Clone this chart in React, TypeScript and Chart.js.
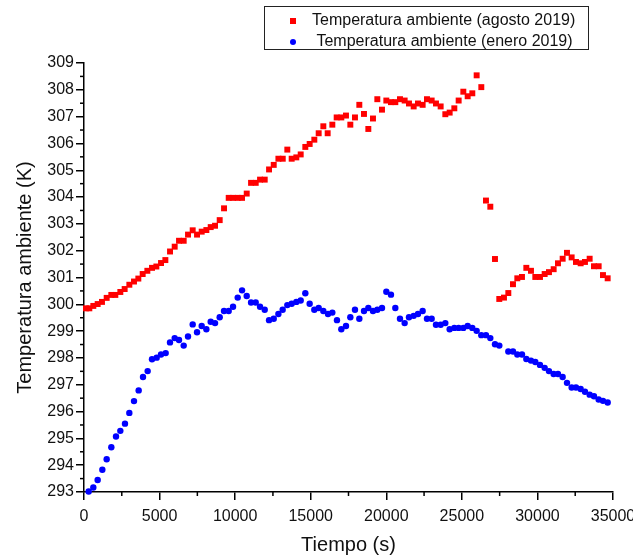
import React, { useEffect, useRef } from 'react';
import { Chart, registerables } from 'chart.js';

Chart.register(...registerables);

const FONT = '"Liberation Sans", Arial, sans-serif';

const augustLabel = 'Temperatura ambiente (agosto 2019)';
const januaryLabel = ' Temperatura ambiente (enero 2019)';
const xTitle = 'Tiempo (s)';
const yTitle = 'Temperatura ambiente (K)';

const augustTime = [
  132, 353, 617, 904, 1190, 1500, 1808, 2073, 2404, 2690, 3000, 3308, 3595, 3882, 4191, 4500,
  4787, 5096, 5383, 5692, 6000, 6287, 6596, 6882, 7191, 7478, 7787, 8096, 8383, 8670, 8978,
  9265, 9574, 9861, 10170, 10457, 10766, 11053, 11361, 11648, 11957, 12244, 12553, 12862,
  13150, 13452, 13740, 14048, 14337, 14643, 14930, 15239, 15527, 15835, 16122, 16430, 16717,
  17025, 17334, 17621, 17929, 18216, 18525, 18812, 19120, 19407, 19716, 20003, 20311, 20598,
  20907, 21215, 21502, 21811, 22097, 22406, 22693, 23002, 23288, 23597, 23906, 24193, 24502,
  24788, 25097, 25384, 25692, 25979, 26287, 26596, 26883, 27192, 27476, 27787, 28074, 28383,
  28669, 28978, 29265, 29574, 29860, 30169, 30478, 30764, 31074, 31360, 31669, 31956, 32264,
  32551, 32860, 33146, 33455, 33742, 34051, 34337, 34647,
];
const augustTemp = [
  299.85, 299.85, 299.94, 300.01, 300.09, 300.24, 300.35, 300.35, 300.46, 300.57, 300.73, 300.85,
  300.96, 301.13, 301.25, 301.36, 301.41, 301.54, 301.65, 301.97, 302.15, 302.37, 302.37, 302.6,
  302.76, 302.6, 302.71, 302.77, 302.88, 302.93, 303.14, 303.58, 303.97, 303.97, 303.97, 303.97,
  304.13, 304.53, 304.53, 304.65, 304.65, 305.03, 305.2, 305.43, 305.43, 305.77, 305.43, 305.48,
  305.59, 305.87, 305.98, 306.14, 306.38, 306.64, 306.38, 306.7, 306.97, 306.97, 307.04, 306.7,
  306.97, 307.44, 307.1, 306.54, 306.93, 307.65, 307.26, 307.6, 307.54, 307.54, 307.65, 307.6,
  307.49, 307.38, 307.49, 307.44, 307.65, 307.6, 307.49, 307.38, 307.09, 307.15, 307.31, 307.6,
  307.93, 307.76, 307.87, 308.54, 308.1, 303.87, 303.64, 301.69, 300.2, 300.25, 300.42, 300.75,
  300.97, 301.02, 301.36, 301.25, 301.02, 301.02, 301.13, 301.2, 301.31, 301.53, 301.7, 301.92,
  301.75, 301.58, 301.53, 301.58, 301.7, 301.42, 301.42, 301.09, 300.97,
];

const januaryTime = [
  309, 617, 904, 1213, 1500, 1808, 2117, 2404, 2712, 3000, 3308, 3617, 3904, 4212, 4500, 4808,
  5095, 5404, 5690, 6000, 6287, 6596, 6882, 7191, 7478, 7787, 8096, 8383, 8670, 8978, 9265,
  9574, 9861, 10170, 10457, 10766, 11053, 11361, 11648, 11957, 12244, 12553, 12862, 13144,
  13452, 13740, 14048, 14337, 14643, 14930, 15239, 15527, 15835, 16143, 16430, 16738, 17025,
  17334, 17621, 17929, 18216, 18525, 18812, 19120, 19407, 19716, 20003, 20311, 20598, 20907,
  21215, 21502, 21811, 22097, 22406, 22693, 23002, 23288, 23597, 23906, 24193, 24502, 24788,
  25097, 25384, 25692, 25979, 26287, 26596, 26883, 27192, 27478, 28074, 28383, 28669, 28978,
  29265, 29574, 29860, 30169, 30478, 30764, 31074, 31360, 31669, 31956, 32264, 32551, 32860,
  33146, 33455, 33742, 34051, 34337, 34647,
];
const januaryTemp = [
  293.02, 293.17, 293.45, 293.83, 294.22, 294.67, 295.07, 295.28, 295.55, 295.95, 296.39, 296.79,
  297.29, 297.51, 297.95, 298.01, 298.13, 298.18, 298.58, 298.74, 298.67, 298.46, 298.8, 299.25,
  298.96, 299.19, 299.07, 299.35, 299.3, 299.52, 299.75, 299.75, 299.91, 300.25, 300.52, 300.31,
  300.07, 300.07, 299.91, 299.8, 299.41, 299.46, 299.64, 299.8, 299.97, 300.02, 300.09, 300.14,
  300.41, 300.02, 299.8, 299.86, 299.75, 299.64, 299.69, 299.41, 299.07, 299.19, 299.52, 299.8,
  299.46, 299.75, 299.86, 299.75, 299.8, 299.86, 300.47, 300.36, 299.86, 299.46, 299.3, 299.52,
  299.57, 299.64, 299.75, 299.46, 299.46, 299.24, 299.24, 299.3, 299.07, 299.12, 299.12, 299.12,
  299.19, 299.12, 299.01, 298.85, 298.85, 298.74, 298.51, 298.46, 298.24, 298.24, 298.13, 298.13,
  297.96, 297.9, 297.85, 297.74, 297.63, 297.51, 297.4, 297.4, 297.29, 297.07, 296.9, 296.9,
  296.84, 296.74, 296.63, 296.57, 296.45, 296.4, 296.34,
];

const xMin = 0;
const xMax = 35000;
const xStep = 5000;
const yMin = 293;
const yMax = 309;
const yStep = 1;

const RED = '#ff0000';
const BLUE = '#0000ff';

const toPoints = (xs: number[], ys: number[]) => xs.map((x, i) => ({ x, y: ys[i] }));

const minorTicksPlugin = {
  id: 'minorTicks',
  afterDraw(chart: any) {
    const { ctx, chartArea, scales } = chart;
    ctx.save();
    ctx.strokeStyle = '#000';
    ctx.lineWidth = 1.5;
    const xt = scales.x.ticks;
    for (let i = 0; i < xt.length - 1; i++) {
      const v = (xt[i].value + xt[i + 1].value) / 2;
      const px = scales.x.getPixelForValue(v);
      ctx.beginPath();
      ctx.moveTo(px, chartArea.bottom);
      ctx.lineTo(px, chartArea.bottom + 4);
      ctx.stroke();
    }
    const yt = scales.y.ticks;
    for (let i = 0; i < yt.length - 1; i++) {
      const v = (yt[i].value + yt[i + 1].value) / 2;
      const py = scales.y.getPixelForValue(v);
      ctx.beginPath();
      ctx.moveTo(chartArea.left - 4, py);
      ctx.lineTo(chartArea.left, py);
      ctx.stroke();
    }
    ctx.restore();
  },
};

const boxLegendPlugin = {
  id: 'boxLegend',
  afterDraw(chart: any) {
    const { ctx } = chart;
    const ds = chart.data.datasets;
    ctx.save();
    ctx.strokeStyle = '#222';
    ctx.lineWidth = 1;
    ctx.strokeRect(264.5, 6.5, 324, 43);
    ctx.font = `16px ${FONT}`;
    ctx.textBaseline = 'middle';
    ctx.textAlign = 'left';
    const rows = [21, 42];
    ds.forEach((d: any, i: number) => {
      const y = rows[i];
      ctx.fillStyle = d.backgroundColor;
      if (d.pointStyle === 'rect') {
        ctx.fillRect(290, y - 3, 6, 6);
      } else {
        ctx.beginPath();
        ctx.arc(293, y, 3, 0, Math.PI * 2);
        ctx.fill();
      }
      ctx.fillStyle = '#111';
      ctx.fillText(d.label, 312, y);
    });
    ctx.restore();
  },
};

export default function App() {
  const canvasRef = useRef<HTMLCanvasElement | null>(null);

  useEffect(() => {
    if (!canvasRef.current) return;
    const chart = new Chart(canvasRef.current, {
      type: 'scatter',
      data: {
        datasets: [
          {
            label: augustLabel,
            data: toPoints(augustTime, augustTemp),
            backgroundColor: RED,
            borderColor: RED,
            borderWidth: 0,
            pointStyle: 'rect',
            pointRadius: 4.2,
            clip: false,
          } as any,
          {
            label: januaryLabel,
            data: toPoints(januaryTime, januaryTemp),
            backgroundColor: BLUE,
            borderColor: BLUE,
            borderWidth: 0,
            pointStyle: 'circle',
            pointRadius: 3.2,
            clip: false,
          } as any,
        ],
      },
      options: {
        animation: false,
        responsive: true,
        maintainAspectRatio: false,
        layout: { padding: { left: 0, right: 47, top: 63, bottom: 0 } },
        plugins: {
          legend: { display: false },
          tooltip: { enabled: false },
        },
        scales: {
          x: {
            type: 'linear',
            min: xMin,
            max: xMax,
            afterFit: (s: any) => {
              s.height = 68;
            },
            ticks: {
              stepSize: xStep,
              color: '#111',
              font: { family: FONT, size: 16 },
              padding: 7,
              maxRotation: 0,
              autoSkip: false,
              callback: (v: any) => String(v),
            },
            grid: { drawOnChartArea: false, drawTicks: true, tickLength: 8, color: '#000', lineWidth: 1.5 },
            border: { display: true, color: '#000', width: 1.5 },
            title: {
              display: true,
              text: xTitle,
              color: '#111',
              font: { family: FONT, size: 20, lineHeight: 1.2 },
              padding: { top: 0, bottom: 3 },
            },
          },
          y: {
            type: 'linear',
            min: yMin,
            max: yMax,
            afterFit: (s: any) => {
              s.width = 84;
            },
            ticks: {
              stepSize: yStep,
              color: '#111',
              font: { family: FONT, size: 16 },
              padding: 2,
              autoSkip: false,
              callback: (v: any) => String(v),
            },
            grid: { drawOnChartArea: false, drawTicks: true, tickLength: 8, color: '#000', lineWidth: 1.5 },
            border: { display: true, color: '#000', width: 1.5 },
            title: {
              display: true,
              text: yTitle,
              color: '#111',
              font: { family: FONT, size: 20, lineHeight: 1.2 },
              padding: { top: 13, bottom: 0 },
            },
          },
        },
      },
      plugins: [minorTicksPlugin, boxLegendPlugin],
    });
    return () => chart.destroy();
  }, []);

  return (
    <div
      style={{
        position: 'fixed',
        left: 0,
        top: 0,
        width: 633,
        height: 560,
        overflow: 'hidden',
        background: '#fff',
      }}
    >
      <div style={{ position: 'relative', width: 660, height: 560 }}>
        <canvas ref={canvasRef} />
      </div>
    </div>
  );
}
